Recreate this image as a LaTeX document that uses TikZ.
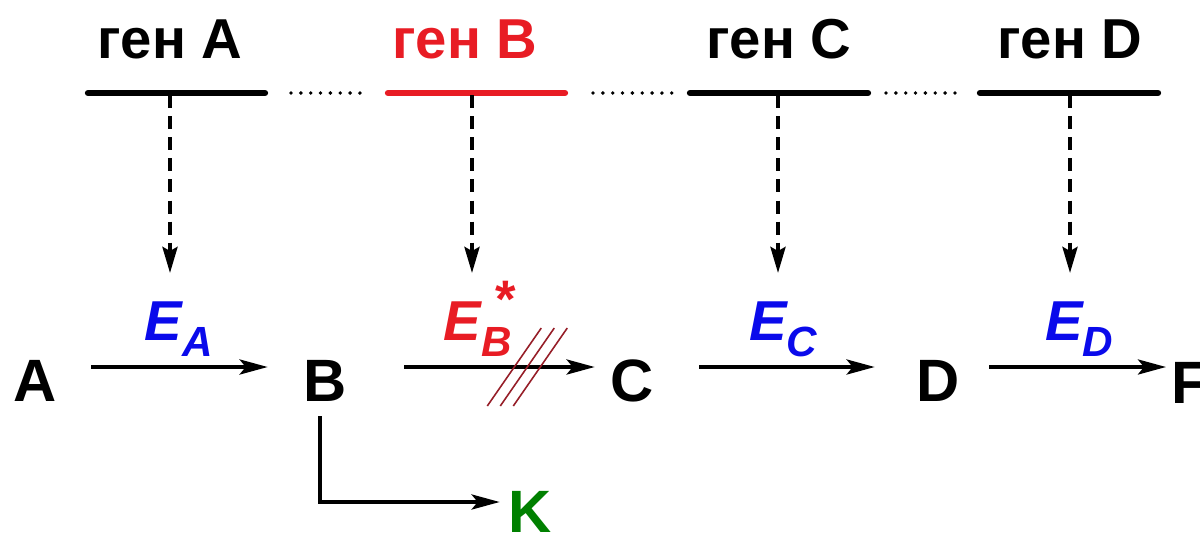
\documentclass[tikz,border=0pt]{standalone}
\usepackage{fontspec}
\setmainfont{Liberation Sans}
\usepackage{xcolor}
\usetikzlibrary{arrows.meta, positioning, calc}

\definecolor{enzblue}{RGB}{10,10,235}
\definecolor{mutred}{RGB}{232,28,36}
\definecolor{hatchred}{RGB}{150,30,40}
\definecolor{sidegreen}{RGB}{0,128,0}

\newcommand{\enzname}[1]{E\raisebox{-0.55ex}{\fontsize{12}{12}\selectfont #1}}
\newcommand{\mutname}[1]{E\rlap{\raisebox{-0.55ex}{\fontsize{12}{12}\selectfont #1}}\raisebox{0.75ex}{\hspace{4pt}\fontsize{15}{15}\selectfont\upshape *}}

\begin{document}
\begin{tikzpicture}[x=0.01cm, y=-0.01cm,
    lbl/.style={font=\fontsize{16}{16}\selectfont\bfseries, inner sep=0pt},
    met/.style={font=\fontsize{17}{17}\selectfont\bfseries, inner sep=0pt},
    enz/.style={font=\fontsize{16}{16}\selectfont\bfseries\itshape, text=enzblue, inner sep=0pt, anchor=base},
    genline/.style={line width=1.8pt, line cap=round},
    gap/.style={line width=1.1pt, line cap=round, dash pattern=on 0pt off 2.8pt},
    expr/.style={line width=1.1pt, dash pattern=on 3.7pt off 2.3pt, -{Stealth[length=0.26cm, width=0.15cm, inset=0.04cm]}},
    react/.style={line width=1.1pt, -{Stealth[length=0.28cm, width=0.15cm, inset=0.06cm]}}]
    \useasboundingbox (0,0) rectangle (1200,533);
    % =========================================================
    % GENES ON THE CHROMOSOME
    % =========================================================
    \node[lbl, anchor=base] (gA) at (170,58) {ген A};
    \node[lbl, anchor=base, text=mutred] (gB) at (465,58) {ген B};
    \node[lbl, anchor=base] (gC) at (779,58) {ген C};
    \node[lbl, anchor=base] (gD) at (1070,58) {ген D};

    \coordinate (lA1) at (88,93);  \coordinate (lA2) at (265,93);
    \coordinate (lB1) at (388,93); \coordinate (lB2) at (565,93);
    \coordinate (lC1) at (690,93); \coordinate (lC2) at (868,93);
    \coordinate (lD1) at (980,93); \coordinate (lD2) at (1158,93);
    \draw[genline] (lA1) -- (lA2);
    \draw[genline, draw=mutred] (lB1) -- (lB2);
    \draw[genline] (lC1) -- (lC2);
    \draw[genline] (lD1) -- (lD2);

    \draw[gap] ($(lA2)+(26,0)$) -- ($(lB1)+(-20,0)$);
    \draw[gap] ($(lB2)+(28,0)$) -- ($(lC1)+(-18,0)$);
    \draw[gap] ($(lC2)+(18,0)$) -- ($(lD1)+(-18,0)$);

    % =========================================================
    % ENZYMES AND METABOLITES
    % =========================================================
    \node[enz] (eA) at (179,340) {\enzname{A}};
    \node[enz, text=mutred] (eB) at (480,340) {\mutname{B}};
    \node[enz] (eC) at (783,340) {\enzname{C}};
    \node[enz] (eD) at (1079,340) {\enzname{D}};

    \coordinate (tA) at (170,95);  \coordinate (hA) at (170,273);
    \coordinate (tB) at (472,95);  \coordinate (hB) at (472,273);
    \coordinate (tC) at (778,95);  \coordinate (hC) at (778,273);
    \coordinate (tD) at (1070,95); \coordinate (hD) at (1070,273);
    \draw[expr] (tA) -- (hA);
    \draw[expr] (tB) -- (hB);
    \draw[expr] (tC) -- (hC);
    \draw[expr] (tD) -- (hD);

    \node[met] (A) at (35,381) {A};
    \node[met] (B) at (325,381) {B};
    \node[met] (C) at (632,381) {C};
    \node[met] (D) at (938,381) {D};
    \node[met] (F) at (1190,383) {F};
    \node[met, text=sidegreen] (K) at (530,512) {K};

    \draw[react] ($(A.east)+(34,-14)$) -- ($(B.west)+(-35,-14)$);
    \draw[react] ($(B.east)+(57,-14)$) -- ($(C.west)+(-15,-14)$);
    \draw[react] ($(C.east)+(45,-14)$) -- ($(D.west)+(-41,-14)$);
    \draw[react] ($(D.east)+(29,-14)$) -- ($(F.west)+(-5,-16)$);
    \draw[react] ($(B.south)+(-5,14)$) |- ($(K.west)+(-8,-10)$);

    % blocked step
    \foreach \dx in {0,13,26}
        \draw[hatchred, line width=0.45pt] ($(B.east)+(140+\dx,25)$) -- ++(54,-78);
\end{tikzpicture}
\end{document}
